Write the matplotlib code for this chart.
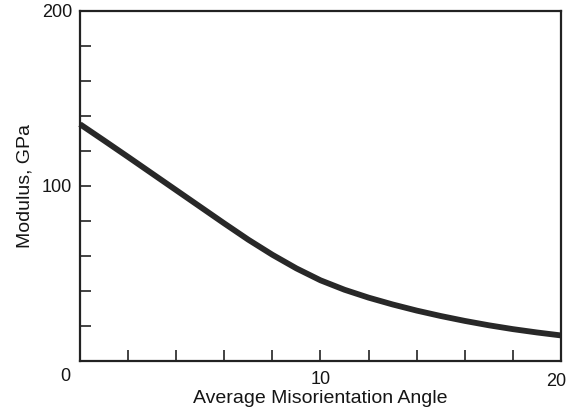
import matplotlib
matplotlib.use('Agg')
import matplotlib.pyplot as plt
import numpy as np

plt.rcParams['font.family'] = ['Liberation Sans', 'DejaVu Sans']

# 数据
angle = [0, 1, 2, 3, 4, 5, 6, 7, 8, 9, 10,
         11, 12, 13, 14, 15, 16, 17, 18, 19, 20]
modulus = [135.3, 126.0, 116.6, 107.1, 97.6, 88.1, 78.6, 69.3, 60.7, 52.9, 46.1,
           40.7, 36.2, 32.3, 28.8, 25.7, 22.9, 20.4, 18.2, 16.3, 14.6]

x_ticks = np.arange(0, 21, 2)
x_labels = ['', '', '', '', '', '10', '', '', '', '', '']
y_ticks = np.arange(0, 201, 20)
y_labels = ['', '', '', '', '', '100', '', '', '', '', '200']

TXT = '#151515'

fig = plt.figure(figsize=(5.67, 4.18), dpi=100)
ax = fig.add_axes([0.1411, 0.1364, 0.9894 - 0.1411, 0.9737 - 0.1364])

ax.plot(angle, modulus, color='#282828', linewidth=4.2,
        solid_capstyle='butt', solid_joinstyle='round', clip_on=False)

ax.set_xlim(0, 20)
ax.set_ylim(0, 200)
ax.set_xticks(x_ticks)
ax.set_xticklabels(x_labels)
ax.set_yticks(y_ticks)
ax.set_yticklabels(y_labels)

ax.tick_params(direction='in', length=8, width=1.2, color='#222222',
               labelsize=13, labelcolor=TXT, top=False, right=False)
ax.tick_params(axis='x', pad=7)
ax.tick_params(axis='y', pad=5.5)

# 原点 "0" 在角的左下方，"20" 贴着右边缘
ax.text(-0.6, -9, '0', ha='center', va='center', fontsize=13, color=TXT, clip_on=False)
ax.text(19.8, -12, '20', ha='center', va='center', fontsize=13, color=TXT, clip_on=False)

for s in ax.spines.values():
    s.set_linewidth(1.6)
    s.set_color('#222222')

ax.set_xlabel('Average Misorientation Angle', fontsize=14, color=TXT, labelpad=2)
ax.set_ylabel('Modulus, GPa', fontsize=14, color=TXT, labelpad=6)

fig.savefig('out.png', dpi=100)
